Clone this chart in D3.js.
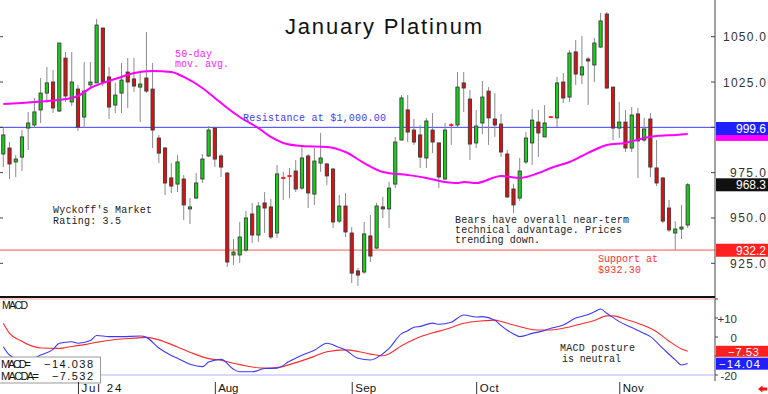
<!DOCTYPE html>
<html><head><meta charset="utf-8">
<script src="https://cdn.jsdelivr.net/npm/d3@7/dist/d3.min.js"></script>
<style>html,body{margin:0;padding:0;background:#fff;overflow:hidden}</style>
</head><body>
<svg id="c" width="768" height="394"></svg>
<script>
// ---------- DATA ----------
const opens  = [985.3,988.6,980.9,983.6,999.6,1001.3,1009.6,1018.9,1025.0,1009.0,1038.2,1014.0,1021.1,1005.7,1023.4,1024.5,1054.8,1027.8,1012.3,1018.9,1030.5,1026.7,1022.2,1027.2,1021.1,994.1,988.6,972.1,968.7,971.5,955.0,961.0,971.5,984.2,999.6,984.2,974.8,929.6,929.6,932.3,952.2,940.6,958.3,956.1,941.7,972.4,973.4,975.9,966.5,984.2,963.2,980.3,979.8,977.0,948.3,956.6,941.7,920.8,920.2,940.1,933.4,956.1,955.0,968.7,993.0,1009.6,998.5,995.8,983.1,998.5,991.4,971.5,1001.5,1001.3,1024.5,1015.6,991.4,1002.4,1020.0,1004.6,1001.8,985.3,966.0,961.0,980.9,991.4,1002.9,994.7,1005.9,1005.2,1025.0,1016.7,1041.6,1028.9,1037.7,1034.4,1044.3,1062.5,1022.2,999.6,1002.9,988.6,1007.4,993.0,1004.6,977.6,972.1,955.5,941.7,943.9,946.1];
const highs  = [999.6,991.9,984.7,998.5,1008.5,1016.2,1027.2,1033.3,1031.6,1046.5,1041.6,1041.6,1023.4,1036.0,1036.0,1059.8,1054.8,1033.3,1024.5,1035.5,1038.2,1038.2,1030.5,1052.6,1035.5,995.8,989.2,980.3,984.7,973.7,961.0,974.8,985.3,1000.7,1000.2,985.3,975.4,938.4,947.8,953.9,958.3,958.8,964.3,960.5,979.2,975.4,977.6,982.0,989.2,985.3,988.6,996.9,980.3,977.6,962.7,963.8,945.0,922.4,947.8,951.6,958.3,961.6,969.9,994.7,1017.8,1017.8,1004.6,1001.3,1005.2,1007.9,991.4,1002.4,1002.4,1030.5,1030.5,1020.6,1009.6,1025.6,1022.2,1018.9,1007.4,987.5,968.7,983.1,997.4,1010.1,1009.6,1012.3,1006.3,1027.8,1029.9,1042.6,1048.2,1050.4,1038.8,1049.3,1063.1,1063.6,1022.2,1014.0,1009.6,1011.2,1010.7,1005.2,1007.9,993.0,972.1,959.9,948.3,957.2,969.3];
const lows   = [978.1,971.5,972.6,975.9,987.5,999.6,1002.4,1013.4,1007.9,1008.5,1014.0,1011.8,998.0,999.6,1022.2,1024.5,1022.8,1004.6,1007.9,1007.9,1010.7,1019.5,1002.9,1018.9,988.6,980.3,962.7,963.8,964.3,948.9,946.7,960.5,969.3,983.6,978.1,972.6,923.0,924.1,925.2,931.2,936.2,936.8,941.7,938.4,939.0,959.9,961.0,964.3,965.4,955.5,957.2,975.4,968.2,944.5,947.2,939.5,914.1,912.5,919.1,925.7,932.9,950.0,944.5,966.5,993.0,991.9,990.3,977.6,977.6,985.8,966.5,971.0,990.3,1000.2,1008.5,982.0,988.6,996.3,990.3,994.7,983.6,961.0,952.7,959.4,979.8,979.2,983.6,994.7,1005.2,1000.2,1013.4,1014.0,1023.4,1023.9,1012.3,1025.0,1043.8,1021.1,993.0,994.1,986.4,986.4,972.1,991.9,972.6,967.6,947.2,942.3,932.3,938.4,944.5];
const closes = [995.8,979.8,982.5,994.7,1002.4,1008.5,1018.9,1024.5,1010.7,1046.5,1017.3,1025.0,1000.2,1020.0,1025.0,1056.4,1025.0,1011.2,1017.8,1026.1,1025.0,1022.8,1023.9,1020.0,998.5,985.8,969.3,967.6,980.9,957.2,956.1,969.3,982.5,998.5,982.5,978.1,925.7,931.2,939.5,950.0,940.6,956.6,955.5,939.5,974.3,971.8,972.8,966.0,983.1,963.8,981.4,983.1,973.2,947.8,956.6,942.3,919.6,918.5,941.2,929.0,956.6,955.0,966.5,991.9,1016.2,997.4,991.9,983.6,1003.5,991.9,972.6,998.5,1001.0,1022.2,1021.7,990.8,1000.7,1016.7,1005.2,1001.3,986.4,961.6,957.2,975.9,994.1,1004.0,996.9,1002.4,1005.5,1024.5,1016.2,1041.0,1029.4,1033.3,1036.6,1046.5,1058.7,1021.7,999.6,1002.9,988.6,1006.8,992.5,999.1,978.1,969.3,948.3,943.4,943.9,945.0,968.3];

// 50-day moving average (sampled at bar index)
const maIdx = [0,5,10,12,14,17,19,21,24,27,29,32,34,36,38,41,43,45,48,52,55,58,61,65,68,71,73,74,76,80,83,86,88,91,93,95,97,100,103,105,108,110];
const maVal = [1012.9,1014.0,1015.6,1017.3,1021.7,1025.6,1027.8,1030.0,1031.1,1030.5,1027.8,1021.7,1016.2,1010.7,1005.7,999.6,994.7,991.4,989.7,989.2,986.4,980.3,975.4,973.7,972.1,969.9,969.3,969.9,969.3,973.2,972.1,974.8,977.6,980.9,984.2,987.5,990.3,991.4,994.1,995.2,995.8,996.3];

// MACD (blue) and MACD average (red), sampled at bar index
const macdIdx = [0,1,3,4,6,8,9,11,12,14,15,17,19,22,23,25,27,28,30,32,33,35,37,38,40,42,44,46,48,50,52,54,55,57,59,61,62,64,65,66,67,69,70,72,74,76,77,79,80,82,83,85,87,88,90,92,94,95,96,97,99,101,103,104,106,108,109,110];
const macdVal = [-5.1,-9.5,-12.1,-12.1,-9.5,-6.5,-3.3,-2.5,-3.3,-1.9,0.8,0.2,0.2,0.5,-0.2,-5.8,-9.7,-11.2,-14.3,-15.6,-13.2,-11.8,-17,-18.3,-18.3,-16.6,-16.4,-12.8,-9.6,-7.0,-3.3,-5.5,-6.8,-11.2,-12.1,-8.8,-6.0,1.8,3.3,5.1,5.6,7.3,6.7,7.8,11.6,10.5,10.7,8.8,6.0,1.6,0.2,1.9,3.4,4.6,6.3,10.0,11.8,13.3,14.7,12.5,8.1,5.0,1.9,0.2,-6.0,-12.0,-14.7,-14.0];
const sigIdx = [0,1,3,4,6,9,10,13,15,18,21,23,25,28,30,33,35,37,40,42,44,47,50,52,55,57,59,61,62,64,66,69,71,74,77,79,80,82,84,86,88,91,93,95,97,98,100,103,105,107,109,110];
const sigVal = [7.2,1.9,-2.2,-4.0,-5.8,-6.0,-5.5,-4.0,-2.8,-1.3,-0.6,-0.2,-1.5,-5.3,-8.0,-11.4,-12.2,-13.8,-15.8,-16.4,-16.1,-13.5,-10.2,-7.8,-6.8,-7.6,-9.0,-9.9,-8.8,-4.6,-1.3,2.2,3.9,7.2,8.5,8.9,8.2,6.3,4.6,3.7,3.7,5.3,7.0,8.7,11.1,11.1,9.3,6.0,2.8,-2.2,-6.3,-7.5];

// Axis ticks / labels
const priceTicks = [1050,1025,1000,975,950,925];
const macdTicks = [20,10,0,-10,-20];
const macdTickLabels = [[10,"+10"],[0,"0"],[-20,"-20"]];
const monthIdx = [12,34,56,76,99];
const monthLabels = ["Jul 24","Aug","Sep","Oct","Nov"];
const monthLabelWidth = [40,20,21,19,21];

const resistance = 1000.0, support = 932.3;
const lastClose = 968.3, lastMA = 996.1, resistLbl = 999.6, supportLbl = 932.2;
const macdLast = -14.038, macdaLast = -7.532;

// ---------- DRAW ----------
const svg = d3.select('#c');
const AX = 715;
const x = d3.scaleLinear().domain([0,110]).range([3.3,687.7]);
const y = d3.scaleLinear().domain([925,1050]).range([263.3,36.7]);
const ym = d3.scaleLinear().domain([-20,20]).range([375,299]);

const SANS = "'Liberation Sans', Arial, sans-serif";
const MONO = "'Liberation Mono', 'DejaVu Sans Mono', monospace";

function txt(s, tx, ty, o) {
  o = o || {};
  const t = svg.append('text').attr('x', tx).attr('y', ty).text(s)
    .attr('font-family', o.family || SANS)
    .attr('font-size', o.size || 12)
    .attr('fill', o.fill || '#000')
    .attr('text-anchor', o.anchor || 'start');
  if (o.len) t.attr('textLength', o.len).attr('lengthAdjust', 'spacing');
  return t;
}

// horizontal reference lines
svg.append('line').attr('x1',0).attr('x2',AX).attr('y1',y(resistance)).attr('y2',y(resistance))
  .attr('stroke','#3b3bff').attr('stroke-width',1);
svg.append('line').attr('x1',0).attr('x2',AX).attr('y1',y(support)).attr('y2',y(support))
  .attr('stroke','#ff5050').attr('stroke-width',1);

// candles
const idx = d3.range(opens.length);
const cg = svg.append('g');
cg.selectAll('line.w').data(idx).join('line')
  .attr('x1', i => x(i)).attr('x2', i => x(i))
  .attr('y1', i => y(highs[i])).attr('y2', i => y(lows[i]))
  .attr('stroke', '#8a8a8a').attr('stroke-width', 1);
cg.selectAll('rect.b').data(idx).join('rect')
  .attr('x', i => x(i) - 1.6).attr('width', 3.2)
  .attr('y', i => Math.min(y(opens[i]), y(closes[i])))
  .attr('height', i => Math.max(1, Math.abs(y(opens[i]) - y(closes[i]))))
  .attr('fill', i => closes[i] >= opens[i] ? '#14d214' : '#dd1010')
  .attr('stroke', i => Math.abs(y(opens[i]) - y(closes[i])) < 1.5 ? (closes[i] >= opens[i] ? '#14d214' : '#ff2020') : '#3a3a3a')
  .attr('stroke-width', 0.9);

// moving average
svg.append('path')
  .attr('d', d3.line().x((d,k) => x(maIdx[k])).y((d,k) => y(maVal[k])).curve(d3.curveMonotoneX)(maVal))
  .attr('fill','none').attr('stroke','#ff00ff').attr('stroke-width',2);

// title & annotations
const AS = 10;
txt('January Platinum', 285, 34, {size:22, len:197, fill:'#111'});
txt('50-day', 175, 57, {family:MONO, size:AS, fill:'#ff22ff', len:37});
txt('mov. avg.', 175, 67, {family:MONO, size:AS, fill:'#ff22ff', len:54});
txt('Resistance at $1,000.00', 243, 121, {family:MONO, size:AS, fill:'#3b3bff', len:143});
txt("Wyckoff's Market", 53, 213, {family:MONO, size:AS, fill:'#222', len:99});
txt('Rating: 3.5', 53, 223.5, {family:MONO, size:AS, fill:'#222', len:68});
txt('Bears have overall near-term', 455, 223, {family:MONO, size:AS, fill:'#222', len:174});
txt('technical advantage. Prices', 455, 233, {family:MONO, size:AS, fill:'#222', len:167});
txt('trending down.', 455, 243, {family:MONO, size:AS, fill:'#222', len:85});
txt('Support at', 598, 262, {family:MONO, size:AS, fill:'#ff3030', len:60});
txt('$932.30', 598, 272.5, {family:MONO, size:AS, fill:'#ff3030', len:43});

// right price axis
svg.append('line').attr('x1',AX).attr('x2',AX).attr('y1',0).attr('y2',381).attr('stroke','#444').attr('stroke-width',1);
priceTicks.forEach(v => {
  svg.append('line').attr('x1',AX-4).attr('x2',AX).attr('y1',y(v)).attr('y2',y(v)).attr('stroke','#444');
  svg.append('line').attr('x1',0).attr('x2',3).attr('y1',y(v)).attr('y2',y(v)).attr('stroke','#444');
  if (v !== 1000) txt(d3.format('.1f')(v), 766, y(v)+4.5, {size:12, anchor:'end', fill:'#333', len: v >= 1000 ? 43 : 36});
});

// value boxes (price)
function vbox(cy, fill, lbl, h) {
  h = h || 13;
  svg.append('rect').attr('x',AX+1).attr('y',cy-h/2).attr('width',768-AX-1).attr('height',h).attr('fill',fill);
  txt(lbl, 766, cy+4.5, {size:12, anchor:'end', fill:'#fff'});
}
// MA marker sits just under the resistance label, mostly hidden by it
svg.append('rect').attr('x',AX+1).attr('y',y(lastMA)-6).attr('width',768-AX-1).attr('height',12.5).attr('fill','#ff00ff');
vbox(128.5, '#2020ff', d3.format('.1f')(resistLbl));
vbox(y(lastClose), '#111', d3.format('.1f')(lastClose));
vbox(y(supportLbl), '#ff2020', d3.format('.1f')(supportLbl));

// panel separator
svg.append('line').attr('x1',0).attr('x2',AX).attr('y1',297).attr('y2',297).attr('stroke','#111').attr('stroke-width',2);

// MACD panel
svg.append('line').attr('x1',0).attr('x2',AX).attr('y1',ym(20)).attr('y2',ym(20)).attr('stroke','#ffa0a0').attr('stroke-width',1);
svg.append('line').attr('x1',0).attr('x2',AX).attr('y1',ym(-20)).attr('y2',ym(-20)).attr('stroke','#b0b0ff').attr('stroke-width',1);
macdTicks.forEach(v => {
  svg.append('line').attr('x1',AX).attr('x2',AX+3).attr('y1',ym(v)).attr('y2',ym(v)).attr('stroke','#444');
});
macdTickLabels.forEach(([v,l]) => txt(l, 737, ym(v) + (v === -20 ? 5 : 4.5), {size:11.5, anchor:'end', fill:'#333'}));

svg.append('path')
  .attr('d', d3.line().x((d,k) => x(sigIdx[k])).y((d,k) => ym(sigVal[k])).curve(d3.curveMonotoneX)(sigVal))
  .attr('fill','none').attr('stroke','#ff2a2a').attr('stroke-width',1.1);
svg.append('path')
  .attr('d', d3.line().x((d,k) => x(macdIdx[k])).y((d,k) => ym(macdVal[k])).curve(d3.curveMonotoneX)(macdVal))
  .attr('fill','none').attr('stroke','#3a3aff').attr('stroke-width',1.1);

txt('MACD', 2, 309, {size:10.5, fill:'#111', len:26});
txt('MACD posture', 560, 351, {family:MONO, size:AS, fill:'#222', len:75});
txt('is neutral', 562, 361.5, {family:MONO, size:AS, fill:'#222', len:59});

// MACD value boxes at their values
const ra = ym(macdaLast), rb = ym(macdLast);
svg.append('rect').attr('x',AX+1).attr('y',ra-5.5).attr('width',768-AX-1).attr('height',11).attr('fill','#ff2020');
txt(d3.format('.2f')(macdaLast), 759, ra+4.3, {size:11.5, anchor:'end', fill:'#fff', len:31});
svg.append('rect').attr('x',AX+1).attr('y',rb-6).attr('width',768-AX-1).attr('height',12).attr('fill','#2020ff');
txt(d3.format('.2f')(macdLast), 760, rb+4.3, {size:11.5, anchor:'end', fill:'#fff', len:41});

// MACD readout box
svg.append('rect').attr('x',-1).attr('y',357).attr('width',101.5).attr('height',26).attr('fill','#fff').attr('stroke','#999');
txt('MACD=', 1, 367.5, {size:11, fill:'#111', len:30});
txt(d3.format('.3f')(macdLast), 93, 367.5, {size:11, anchor:'end', fill:'#111', len:49});
txt('MACDA=', 1, 379.5, {size:11, fill:'#111', len:38});
txt(d3.format('.3f')(macdaLast), 93, 379.5, {size:11, anchor:'end', fill:'#111', len:41});

// date axis
monthIdx.forEach((m,k) => {
  const tx = x(m) + 0.5;
  svg.append('line').attr('x1',tx).attr('x2',tx).attr('y1',382).attr('y2',394).attr('stroke','#333');
  txt(monthLabels[k], tx + 3, 392, {size:11.5, fill:'#111', len: monthLabelWidth[k]});
});

// small red arrow bottom right
svg.append('path').attr('d','M758,389 L762.5,385.5 L762.5,387.6 L767,387.6 L767,390.4 L762.5,390.4 L762.5,392.5 Z').attr('fill','#ff1010');
</script>
</body></html>
